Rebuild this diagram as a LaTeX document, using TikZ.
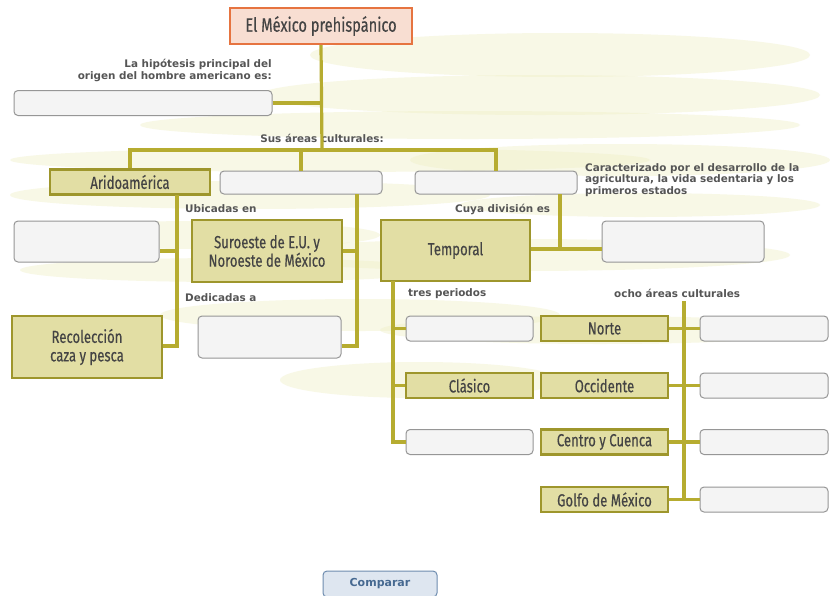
\documentclass[tikz,border=0pt]{standalone}
\usepackage{fontspec}
\setmainfont{DejaVu Sans}
\newfontfamily\condf[FakeStretch=0.75, FakeBold=0.4]{Fira Sans}
\usetikzlibrary{positioning}
\definecolor{linec}{RGB}{182,172,48}
\definecolor{olfill}{RGB}{226,222,164}
\definecolor{olborder}{RGB}{158,150,44}
\definecolor{txtg}{RGB}{85,85,85}
\definecolor{txtd}{RGB}{68,68,68}
\definecolor{boxg}{RGB}{150,150,150}
\definecolor{boxf}{RGB}{244,244,244}
\definecolor{bgs}{RGB}{240,240,200}
\definecolor{ttlfill}{RGB}{248,222,210}
\definecolor{ttlborder}{RGB}{230,116,64}
\definecolor{btnf}{RGB}{222,230,240}
\definecolor{btnb}{RGB}{110,140,175}
\definecolor{btnt}{RGB}{70,105,145}
\tikzset{
  conn/.style={draw=linec, line width=3.2pt},
  olbox/.style={draw=olborder, fill=olfill, line width=2.6pt, inner sep=0pt, font=\condf\fontsize{17.5}{18.5}\selectfont, text=txtd, align=center},
  emptybox/.style={draw=boxg, fill=boxf, line width=1pt, rounded corners=4pt, inner sep=0pt},
  lbl/.style={font=\bfseries\fontsize{10.4}{11.6}\selectfont, text=txtg, inner sep=0pt},
  bgstroke/.style={fill=bgs, opacity=0.45, draw=none}
}
\begin{document}
\begin{tikzpicture}[x=1pt,y=-1pt]
\useasboundingbox (0,0) rectangle (830,595);
\fill[white] (0,0) rectangle (830,595);
% background brush strokes
\fill[bgstroke] (560,55) ellipse (250 and 22);
\fill[bgstroke] (540,95) ellipse (280 and 20);
\fill[bgstroke] (470,125) ellipse (330 and 14);
\fill[bgstroke] (330,160) ellipse (320 and 12);
\fill[bgstroke] (620,160) ellipse (210 and 16);
\fill[bgstroke] (250,195) ellipse (240 and 14);
\fill[bgstroke] (640,205) ellipse (180 and 12);
\fill[bgstroke] (200,235) ellipse (180 and 14);
\fill[bgstroke] (520,255) ellipse (270 and 16);
\fill[bgstroke] (230,270) ellipse (210 and 12);
\fill[bgstroke] (360,315) ellipse (200 and 16);
\fill[bgstroke] (600,330) ellipse (220 and 14);
\fill[bgstroke] (420,380) ellipse (140 and 18);
% title
\node[draw=ttlborder, fill=ttlfill, line width=2.2pt, minimum width=182pt, minimum height=36pt, inner sep=0pt, font=\condf\fontsize{19.5}{20}\selectfont, text=txtd] (title) at (321,26) {El México prehispánico};
% hypothesis
\node[lbl, align=right, anchor=north east] (hyplbl) at (272,59) {La hipótesis principal del\\origen del hombre americano es:};
\node[emptybox, minimum width=258pt, minimum height=25pt] (hyp) at (143,103) {};
\node[lbl, anchor=south] (suslbl) at (322,143) {Sus áreas culturales:};
\coordinate (hub) at (322,150);
% area boxes
\node[olbox, minimum width=160pt, minimum height=25pt] (ari) at (130,182) {Aridoamérica};
\node[emptybox, minimum width=162pt, minimum height=23pt] (mid) at (301,182.5) {};
\node[emptybox, minimum width=162pt, minimum height=23pt] (agri) at (496,182.5) {};
\node[lbl, align=left, anchor=north west] (carlbl) at (585,163) {Caracterizado por el desarrollo de la\\agricultura, la vida sedentaria y los\\primeros estados};
\draw[conn] (title.south) -- (hub);
\draw[conn] (hyp.east) -- (hyp.east -| hub);
\draw[conn] (ari.north) |- (hub) -| (agri.north);
\draw[conn] (mid.north) -- (mid.north |- hub);
% Aridoamerica branch
\node[lbl, anchor=west] (ubic) at (185,209) {Ubicadas en};
\node[lbl, anchor=west] (dedic) at (185,298) {Dedicadas a};
\node[emptybox, minimum width=145pt, minimum height=41pt] (emL) at (86.5,241.5) {};
\node[olbox, minimum width=150pt, minimum height=62pt] (rec) at (87,347) {Recolección\\caza y pesca};
\node[olbox, minimum width=150pt, minimum height=62pt] (suro) at (267,251) {Suroeste de E.U. y\\Noroeste de México};
\node[emptybox, minimum width=143pt, minimum height=42pt] (emD) at (269.5,337) {};
\coordinate (aTop) at (177,195);
\coordinate (aBot) at (177,346);
\coordinate (aMid) at (177,251);
\draw[conn] (aTop) -- (aBot) -- (aBot -| rec.east);
\draw[conn] (aMid -| emL.east) -- (aMid);
\coordinate (mTop) at (357,194);
\coordinate (mBot) at (357,346);
\coordinate (mMid) at (357,251);
\draw[conn] (mTop) -- (mBot) -- (mBot -| emD.east);
\draw[conn] (suro.east) -- (mMid);
% Temporal
\node[lbl, anchor=west] (cuya) at (455,209) {Cuya división es};
\node[olbox, minimum width=149pt, minimum height=61pt] (temp) at (455.5,250.5) {Temporal};
\node[emptybox, minimum width=162pt, minimum height=41pt] (emT) at (683,241.5) {};
\coordinate (tTop) at (560,194);
\coordinate (tJ) at (560,249);
\draw[conn] (tTop) -- (tJ);
\draw[conn] (temp.east |- tJ) -- (emT.west |- tJ);
% periods
\node[lbl, anchor=west] (tres) at (408,294) {tres periodos};
\node[emptybox, minimum width=127pt, minimum height=25pt] (p1) at (469.5,328.5) {};
\node[olbox, minimum width=127pt, minimum height=25pt] (clas) at (469.5,385.5) {Clásico};
\node[emptybox, minimum width=127pt, minimum height=25pt] (p3) at (469.5,442) {};
\coordinate (pTop) at (393,281);
\coordinate (pBot) at (393,442);
\draw[conn] (pTop) -- (pBot) -- (p3.west);
\draw[conn] (p1.west -| pTop) -- (p1.west);
\draw[conn] (clas.west -| pTop) -- (clas.west);
% eight areas
\node[lbl, anchor=west] (ocho) at (614,293) {ocho áreas culturales};
\node[olbox, minimum width=127pt, minimum height=25pt] (norte) at (604.5,328.5) {Norte};
\node[olbox, minimum width=127pt, minimum height=25pt] (occ) at (604.5,385.5) {Occidente};
\node[olbox, minimum width=127pt, minimum height=25pt] (cent) at (604.5,442) {Centro y Cuenca};
\node[olbox, minimum width=127pt, minimum height=25pt] (golfo) at (604.5,499.5) {Golfo de México};
\node[emptybox, minimum width=128pt, minimum height=25pt] (r1) at (764,328.5) {};
\node[emptybox, minimum width=128pt, minimum height=25pt] (r2) at (764,385.5) {};
\node[emptybox, minimum width=128pt, minimum height=25pt] (r3) at (764,442) {};
\node[emptybox, minimum width=128pt, minimum height=25pt] (r4) at (764,499.5) {};
\coordinate (oTop) at (684,301);
\coordinate (oBot) at (684,499.5);
\draw[conn] (oTop) -- (oBot);
\draw[conn] (norte.east) -- (r1.west);
\draw[conn] (occ.east) -- (r2.west);
\draw[conn] (cent.east) -- (r3.west);
\draw[conn] (golfo.east) -- (r4.west);
% button
\node[draw=btnb, fill=btnf, line width=1pt, rounded corners=4pt, minimum width=114pt, minimum height=26pt, inner sep=0pt, font=\bfseries\fontsize{11}{12}\selectfont, text=btnt] (btn) at (380,584) {Comparar};
\end{tikzpicture}
\end{document}
